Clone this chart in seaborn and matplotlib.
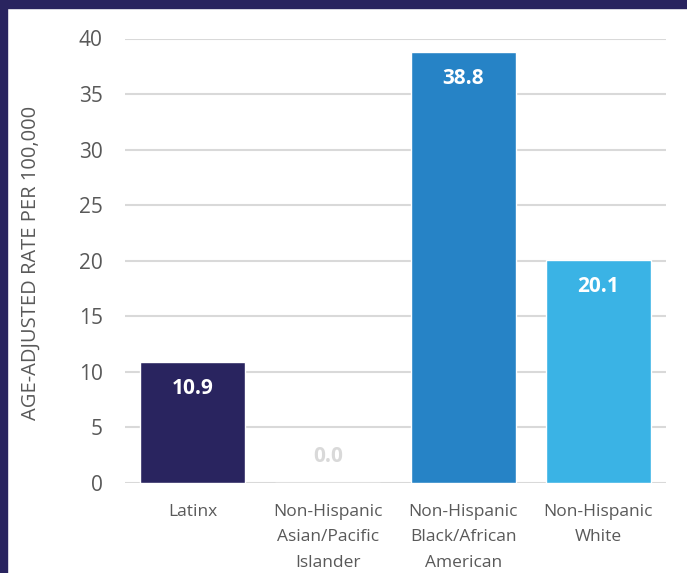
import matplotlib
matplotlib.use("Agg")
import matplotlib.pyplot as plt
import seaborn as sns
import pandas as pd
from matplotlib.patches import Rectangle

categories = ["Latinx", "Non-Hispanic\nAsian/Pacific\nIslander", "Non-Hispanic\nBlack/African\nAmerican", "Non-Hispanic\nWhite"]
values = [10.9, 0.0, 38.8, 20.1]
colors = ["#29245F", "#D9D9D9", "#2683C6", "#3AB3E5"]
label_colors = ["white", "#D9D9D9", "white", "white"]
yticks = [0, 5, 10, 15, 20, 25, 30, 35, 40]

sns.set_theme(style="white")
plt.rcParams['font.family'] = ['Open Sans', 'DejaVu Sans']

df = pd.DataFrame({"cat": categories, "val": values})
fig = plt.figure(figsize=(6.87, 5.73), dpi=100)
ax = fig.add_axes([125/687, 1-483/573, (666-125)/687, (483-38.5)/573])

sns.barplot(data=df, x="cat", y="val", hue="cat", palette=colors, legend=False,
            width=0.776, ax=ax, saturation=1, zorder=3)

ax.set_ylim(0, 40)
ax.set_yticks(yticks)
ax.set_xlim(-0.5, 3.5)
ax.grid(axis="y", color="#D9D9D9", linewidth=1.5, zorder=0)
ax.grid(axis="x", visible=False)
for s in ax.spines.values():
    s.set_visible(False)
ax.tick_params(axis="y", length=0, labelsize=15, labelcolor="#595959", pad=16)
ax.tick_params(axis="x", length=0, labelsize=12.5, labelcolor="#595959", pad=15)
for t in ax.get_xticklabels():
    t.set_linespacing(1.8)
ax.set_xlabel("")
ax.set_ylabel("AGE-ADJUSTED RATE PER 100,000", fontsize=14.5, color="#595959", va="center")
ax.yaxis.set_label_coords(-0.175, 0.495)

for i, (v, c) in enumerate(zip(values, label_colors)):
    off = -19 if v > 0 else 19
    ax.annotate(f"{v:.1f}", xy=(i, v), xytext=(0, off), textcoords="offset points",
                ha="center", va="center", fontsize=15, fontweight="bold", color=c, zorder=5)

fig.patches.append(Rectangle((0, 1-8/573), 1, 8/573, transform=fig.transFigure, color="#29245F", zorder=10))
fig.patches.append(Rectangle((0, 0), 7/687, 1, transform=fig.transFigure, color="#29245F", zorder=10))

fig.savefig("out.png", dpi=100)
